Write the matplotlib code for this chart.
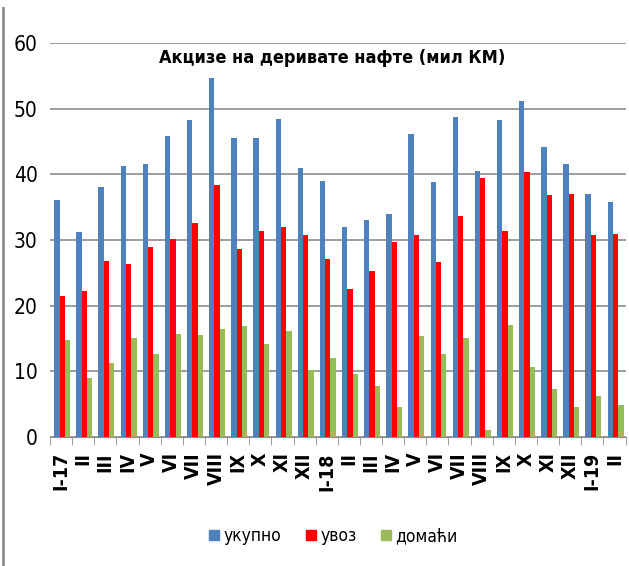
import numpy as np
import matplotlib.pyplot as plt
from matplotlib.lines import Line2D

# labels and values (mil KM)
months = ['I-17', 'II', 'III', 'IV', 'V', 'VI', 'VII', 'VIII', 'IX', 'X', 'XI', 'XII',
          'I-18', 'II', 'III', 'IV', 'V', 'VI', 'VII', 'VIII', 'IX', 'X', 'XI', 'XII',
          'I-19', 'II']
ukupno = [36.1, 31.2, 38.0, 41.3, 41.5, 45.8, 48.2, 54.7, 45.6, 45.6, 48.4, 41.0,
          39.0, 32.0, 33.0, 33.9, 46.1, 38.9, 48.8, 40.5, 48.3, 51.2, 44.2, 41.5,
          37.0, 35.8]
uvoz = [21.5, 22.2, 26.8, 26.4, 28.9, 30.2, 32.6, 38.4, 28.7, 31.3, 32.0, 30.8,
        27.1, 22.6, 25.2, 29.7, 30.7, 26.7, 33.7, 39.5, 31.3, 40.3, 36.9, 37.0,
        30.7, 30.9]
domaci = [14.7, 9.0, 11.2, 15.1, 12.7, 15.7, 15.5, 16.4, 16.9, 14.1, 16.2, 10.2,
          12.1, 9.6, 7.8, 4.5, 15.3, 12.7, 15.0, 1.0, 17.0, 10.7, 7.3, 4.5,
          6.2, 4.8]
series_names = ['укупно', 'увоз', 'домаћи']

plt.rcParams['font.family'] = ['DejaVu Sans']
plt.rcParams['font.stretch'] = 'condensed'

fig = plt.figure(figsize=(6.29, 5.66), dpi=100)
ax = fig.add_axes([0.0795, 0.228, 0.915, 0.696])

x = np.arange(len(months))
w = 0.24
colors = ['#4F81BD', '#FF0000', '#9BBB59']
for i, vals in enumerate([ukupno, uvoz, domaci]):
    ax.bar(x + (i - 1) * w + 0.05, vals, width=w, color=colors[i], zorder=3)

ax.set_xlim(-0.5, len(months) - 0.5)
ax.set_ylim(0, 60)
ax.set_yticks(range(0, 61, 10))
ax.yaxis.grid(True, color='#8c8c8c', linewidth=1.2)
ax.set_axisbelow(True)
ax.tick_params(axis='y', labelsize=15, length=0, pad=9)

ax.set_xticks(x)
ax.set_xticklabels(months, rotation=90, fontsize=14, fontweight='bold')
ax.tick_params(axis='x', length=0, pad=11)
ax.set_xticks(np.arange(-0.5, len(months)), minor=True)
ax.tick_params(axis='x', which='minor', length=6, color='#8c8c8c')

for s in ['top', 'right', 'left']:
    ax.spines[s].set_visible(False)
ax.spines['bottom'].set_color('#8c8c8c')

ax.text(0.49, 0.985, 'Акцизе на деривате нафте (мил КМ)', transform=ax.transAxes,
        ha='center', va='top', fontsize=13, fontweight='bold')

handles = [Line2D([], [], marker='s', linestyle='', markersize=7.5, color=c) for c in colors]
fig.legend(handles, series_names, loc='center', bbox_to_anchor=(0.527, 0.053), ncol=3,
           frameon=False, fontsize=12.5, handletextpad=0.05, columnspacing=1.2,
           handlelength=1.0)

fig.add_artist(Line2D([0.005, 0.005], [0, 0.985], color='#8c8c8c', linewidth=2))

fig.savefig('out.png', dpi=100)
